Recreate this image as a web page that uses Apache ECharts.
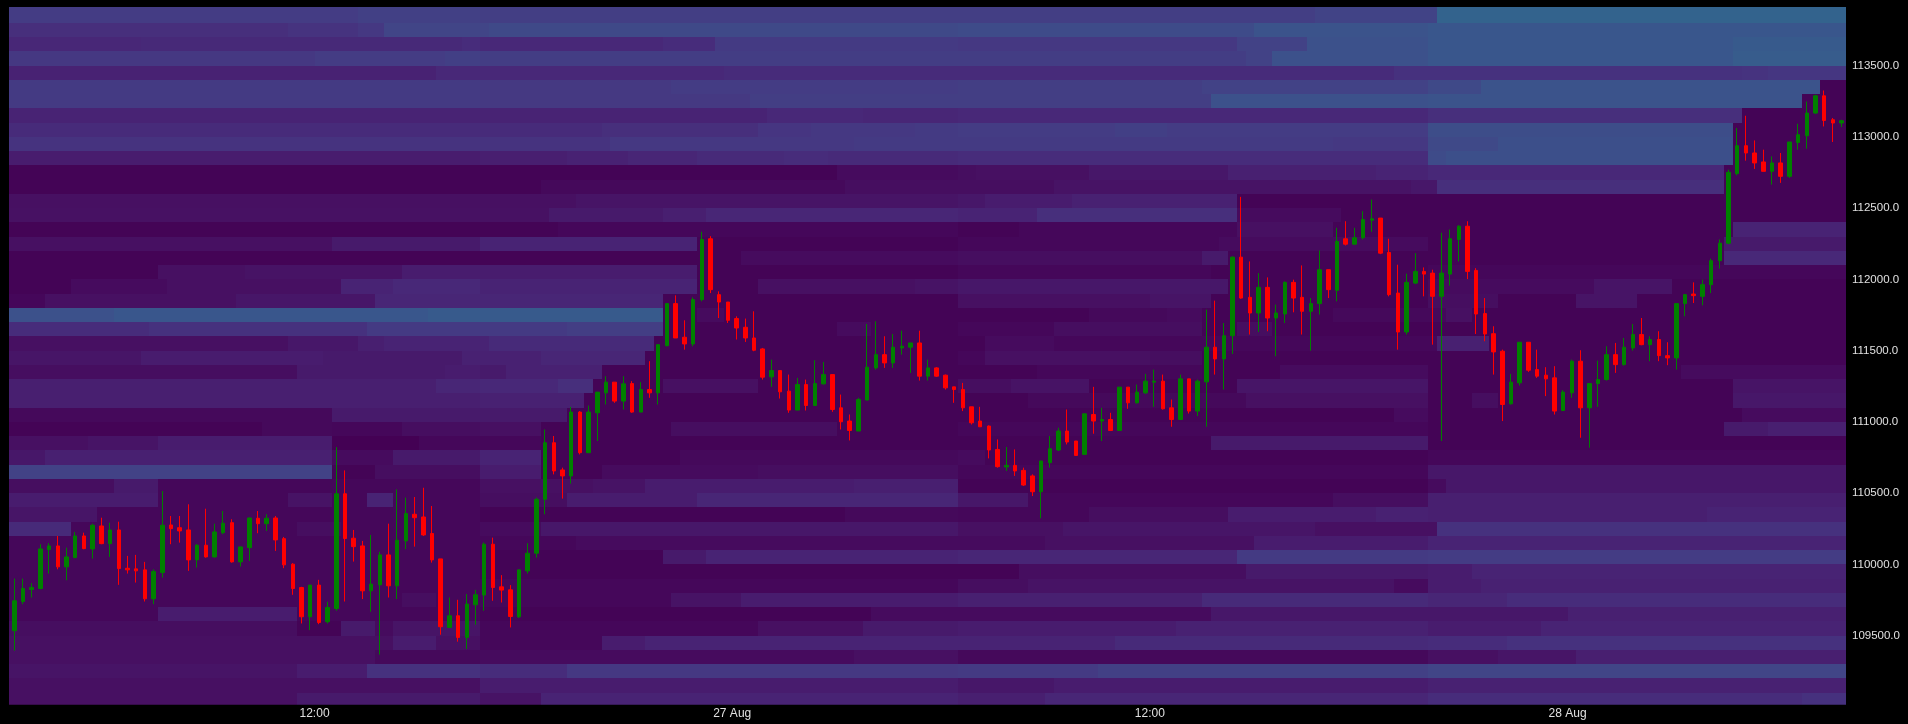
<!DOCTYPE html>
<html><head><meta charset="utf-8">
<script src="https://cdn.jsdelivr.net/npm/echarts@6/dist/echarts.min.js"></script>
<style>html,body{margin:0;padding:0;background:#000;}#c{width:1908px;height:724px;}</style>
</head><body><div id="c"></div>
<script>
// time axis in minutes since 26 Aug 00:00; 15-minute bins starting 03:15
const startMinute = 195;
const stepMinutes = 15;
const xTickValues = [720, 1440, 2160, 2880];
const xTickLabels = ['12:00', '27 Aug', '12:00', '28 Aug'];
const yTickValues = [109500, 110000, 110500, 111000, 111500, 112000, 112500, 113000, 113500];

// candles: [open, close, low, high]
const candles = [
[109535,109745,109395,109901],[109740,109831,109721,109901],[109824,109838,109768,109869],[109831,110109,109826,110142],
[110104,110130,109936,110149],[110130,109983,109966,110200],[109983,110053,109889,110118],[110048,110200,110044,110228],
[110200,110111,110107,110223],[110109,110275,110041,110286],[110270,110146,110142,110328],[110146,110242,110053,110293],
[110242,109971,109857,110300],[109973,109962,109936,110060],[109969,109955,109873,110067],[109962,109759,109740,110018],
[109759,109950,109721,109966],[109943,110275,109908,110515],[110277,110251,110142,110340],[110258,110235,110153,110340],
[110242,110032,109955,110422],[110032,110135,109978,110142],[110135,110053,110048,110391],[110053,110228,110048,110286],
[110223,110289,110212,110375],[110293,110018,110013,110317],[110018,110123,109985,110125],[110118,110326,110025,110328],
[110324,110286,110219,110375],[110286,110324,110235,110352],[110326,110172,110095,110340],[110181,109997,109974,110193],
[110002,109831,109787,110009],[109838,109633,109586,109843],[109633,109855,109539,109855],[109855,109593,109581,109892],
[109598,109698,109586,109738],[109691,110496,109675,110823],[110496,110182,109740,110660],[110184,110125,110020,110242],
[110130,109815,109757,110165],[109815,109862,109668,110207],[109857,110067,109367,110088],[110067,109850,109768,110286],
[109850,110170,109757,110527],[110165,110357,110107,110469],[110352,110328,110125,110473],[110333,110207,110200,110538],
[110217,110032,110013,110410],[110039,109563,109507,110039],[109558,109640,109558,109768],[109640,109488,109458,109752],
[109488,109722,109407,109792],[109717,109787,109577,109822],[109785,110142,109675,110154],[110142,109838,109745,110188],
[109843,109820,109733,109925],[109822,109635,109558,109855],[109633,109962,109624,109962],[109955,110079,109936,110149],
[110079,110457,110048,110469],[110457,110854,110352,110947],[110854,110656,110632,110901],[110663,110621,110462,110679],
[110621,111069,110567,111106],[111069,110784,110772,111076],[110784,111069,110784,111115],[111064,111209,110866,111209],
[111204,111279,111122,111321],[111279,111146,111134,111279],[111146,111267,111087,111321],[111269,111069,111064,111286],
[111069,111227,111069,111279],[111227,111204,111169,111426],[111204,111542,111122,111542],[111535,111830,111530,111830],
[111830,111589,111589,111888],[111594,111547,111507,111713],[111547,111858,111531,111874],[111858,112280,111846,112334],
[112285,111928,111904,112303],[111893,111841,111729,111916],[111841,111713,111694,111841],[111725,111659,111578,111741],
[111664,111589,111561,111725],[111589,111503,111496,111776],[111512,111314,111297,111519],[111316,111360,111246,111437],
[111360,111211,111164,111360],[111216,111083,111064,111332],[111083,111262,111083,111309],[111262,111115,111080,111297],
[111115,111269,111115,111433],[111267,111332,111262,111421],[111332,111087,111071,111332],[111099,111001,110947,111192],
[111006,110940,110870,111052],[110936,111157,110936,111169],[111153,111384,111153,111687],[111379,111472,111367,111706],
[111472,111414,111379,111601],[111414,111524,111379,111617],[111519,111531,111472,111640],[111524,111554,111344,111554],
[111554,111321,111290,111640],[111321,111379,111290,111437],[111379,111321,111316,111384],[111328,111239,111227,111332],
[111246,111227,111134,111246],[111227,111099,111076,111274],[111106,110994,110982,111106],[111006,110966,110966,111106],
[110971,110803,110744,110975],[110807,110686,110679,110877],[110684,110695,110656,110824],[110695,110656,110621,110807],
[110660,110557,110551,110679],[110621,110510,110480,110632],[110510,110726,110324,110726],[110714,110812,110679,110901],
[110803,110936,110796,110959],[110936,110859,110842,111087],[110866,110765,110761,110866],[110772,111057,110772,111057],
[111052,111006,110917,111246],[111006,111017,110866,111099],[111017,110940,110936,111064],[110940,111244,110936,111244],
[111244,111134,111092,111244],[111134,111209,111129,111262],[111204,111286,111197,111337],[111279,111286,111106,111367],
[111286,111092,111087,111332],[111099,111017,110966,111157],[111017,111302,111013,111332],[111302,111076,111059,111302],
[111076,111286,111041,111297],[111281,111524,110966,111788],[111524,111442,111332,111851],[111442,111605,111227,111694],
[111605,112156,111477,112161],[112156,111869,111864,112579],[111874,111764,111613,112126],[111764,111944,111631,112044],
[111944,111729,111636,112014],[111729,111764,111461,111823],[111757,111979,111694,111986],[111979,111869,111769,111998],
[111874,111776,111613,112098],[111776,111830,111500,111869],[111830,112068,111753,112203],[112068,111928,111869,112068],
[111923,112266,111846,112362],[112285,112247,112238,112408],[112247,112292,112243,112362],[112292,112420,112280,112478],
[112415,112425,112334,112560],[112430,112184,112177,112430],[112189,111893,111881,112285],[111904,111631,111507,112103],
[111631,111979,111613,112040],[111974,112056,111967,112184],[112056,112037,111881,112084],[112044,111881,111542,112068],
[111881,112044,110866,112327],[112037,112285,111956,112350],[112280,112373,112126,112380],[112373,112056,112002,112408],
[112063,111757,111617,112079],[111760,111617,111566,111869],[111619,111491,111332,111671],[111496,111122,111006,111507],
[111127,111279,111122,111337],[111274,111559,111255,111559],[111559,111363,111351,111559],[111367,111321,111309,111507],
[111328,111302,111181,111384],[111309,111076,111052,111391],[111080,111209,111076,111223],[111204,111426,111169,111437],
[111426,111099,110889,111503],[111099,111269,110819,111269],[111269,111297,111106,111430],[111297,111472,111290,111531],
[111472,111402,111344,111554],[111402,111524,111395,111589],[111519,111613,111500,111687],[111613,111542,111538,111729],
[111542,111578,111426,111601],[111578,111465,111426,111636],[111465,111449,111398,111559],[111449,111830,111367,111830],
[111830,111893,111741,111897],[111897,111886,111834,111979],[111881,111963,111818,111998],[111963,112131,111904,112145],
[112131,112254,112075,112280],[112254,112751,112247,112770],[112742,112938,112730,113062],[112938,112887,112833,113148],
[112887,112817,112775,112975],[112824,112758,112758,112910],[112758,112817,112665,112863],[112817,112723,112677,112887],
[112723,112964,112712,112964],[112961,113015,112910,113092],[113008,113167,112917,113248],[113167,113288,113162,113295],
[113288,113115,113073,113325],[113120,113097,112964,113132],[113097,113113,113069,113120]
];

// order-book heat rows: lower price of each 100-wide level
const rowPrices = [113800,113700,113600,113500,113400,113300,113200,113100,113000,112900,112800,112700,112600,112500,112400,112300,
112200,112100,112000,111900,111800,111700,111600,111500,111400,111300,111200,111100,111000,110900,110800,110700,110600,110500,
110400,110300,110200,110100,110000,109900,109800,109700,109600,109500,109400,109300,109200,109100,109000];
// each row: [startColumn, intensity, startColumn, intensity, ...]
const rowSegments = [
[0,50,40,54,54,52,150,56,164,90],
[0,38,32,42,40,46,43,58,55,62,109,64,143,72,163,76],
[0,31,15,33,52,36,54,32,75,36,81,48,109,46,141,55,149,70,163,76,198,80],
[0,46,35,50,50,53,54,51,142,55,145,70,163,76,198,82],
[0,27,49,32,82,35,159,40,199,42,202,45],
[0,48,54,47,76,50,109,52,137,55,163,62,169,72,208,2],
[0,48,54,47,85,52,138,70,163,72,206,2],
[0,28,87,32,98,30,109,32,163,38,199,2],
[0,35,68,38,86,44,92,46,104,48,109,50,127,53,133,50,163,66,198,2],
[0,42,69,46,97,48,152,46,163,62,171,68,198,2],
[0,22,54,24,64,27,71,30,79,34,89,36,94,34,109,36,163,64,165,68,198,2],
[0,2,95,8,109,10,111,12,124,18,140,25,157,28,163,32,197,2],
[0,2,61,6,96,10,120,14,161,18,164,38,197,2],
[0,12,65,15,109,18,112,22,122,26,141,2],
[0,13,62,20,75,24,80,30,109,28,118,38,141,8,153,2],
[0,2,63,5,109,2,116,5,141,12,152,2,198,28],
[0,12,37,20,54,28,79,2,109,5,139,8,163,2,197,20],
[0,2,84,8,109,10,137,20,140,2,197,32],
[0,2,17,12,27,14,45,22,79,2,109,5,138,2,163,5],
[0,2,7,8,18,12,38,28,44,32,54,28,79,2,86,12,104,14,109,18,140,2,163,8,182,15,191,2],
[0,5,4,12,26,17,42,30,75,2,109,12,131,15,138,2,163,10,171,2,180,15,187,2],
[0,70,12,76,48,80,75,2,79,8,82,2,124,6,133,8,137,2,152,6,165,12,168,2],
[0,36,16,40,41,48,64,52,75,2,95,8,99,2,109,5,120,10,137,2,141,10,145,2],
[0,12,32,18,40,24,43,28,55,34,74,2,112,8,120,5,164,25,170,2],
[0,16,15,22,36,20,52,26,61,30,73,2,109,5,112,12,131,10,137,2],
[0,10,33,20,50,22,54,20,57,26,68,2,118,5,137,2,146,8,163,2,192,8],
[0,24,49,30,54,32,63,38,67,2,75,12,86,2,109,10,115,14,124,2,141,16,163,2,198,15],
[0,24,54,26,66,2,117,6,142,12,163,2,168,10,171,2,198,18],
[0,6,37,20,64,2,159,8,163,2,199,8],
[0,2,29,6,37,5,45,10,54,12,61,2,76,10,95,2,109,5,163,2,197,20,202,24],
[0,12,9,15,17,22,37,0,47,5,61,2,138,20,163,2],
[0,18,4,25,37,8,44,20,54,28,61,2,77,6,109,8,112,2,163,5],
[0,55,37,2,42,10,54,22,61,2,68,8,86,10,109,5,163,18],
[0,10,12,20,17,5,54,12,67,14,73,22,97,24,109,2,163,8,165,18],
[0,22,17,5,32,14,37,5,41,28,44,5,54,10,64,22,79,30,109,18,117,5,152,10,163,24],
[0,16,10,5,54,2,96,6,109,5,124,10,140,22,157,26,163,24,195,28],
[0,34,7,5,33,10,38,5,54,8,61,18,109,12,121,16,150,12,164,40],
[0,5,65,8,119,12,143,22,163,28],
[0,5,54,2,75,20,80,28,109,30,141,48,163,50],
[0,5,54,2,116,10,142,20,163,22,168,28],
[0,5,109,10,117,14,159,8,163,22,169,26],
[0,5,45,10,49,5,76,14,84,22,109,25,137,34,163,30,172,36],
[0,5,17,22,33,5,54,2,99,8,138,18,179,25],
[0,10,33,2,38,20,42,8,44,15,54,5,86,12,98,20,109,22,134,26,163,22,176,28],
[0,12,44,22,49,12,54,5,68,22,73,28,127,34,163,36,172,40],
[0,12,42,6,54,8,97,12,109,6,163,12,171,16,180,24],
[0,15,33,22,41,40,54,36,64,46,109,48,125,54,163,58],
[0,12,54,22,109,18,120,22,163,26],
[0,12,33,20,54,14,61,28,109,24,119,30,163,36,206,40]
];

const columnCount = candles.length;
const xMin = 193.3, xMax = startMinute + stepMinutes * columnCount;
const yMin = 109016, yMax = 113911;

// build heat rectangles [xStart, xEnd, pLow, pHigh, value]
const heatData = [];
rowSegments.forEach(function (seg, r) {
  const pLow = rowPrices[r];
  const pHigh = r === 0 ? yMax : pLow + 100;
  for (let i = 0; i < seg.length; i += 2) {
    const c0 = seg[i];
    const c1 = i + 2 < seg.length ? seg[i + 2] : columnCount;
    heatData.push([startMinute + stepMinutes * c0, startMinute + stepMinutes * c1, pLow, pHigh, seg[i + 1]]);
  }
});
heatData.forEach(function (d) { if (d[0] === startMinute) d[0] = xMin; });

const candleData = candles.map(function (c, k) {
  return [startMinute + stepMinutes * (k + 0.5), c[0], c[1], c[2], c[3]];
});

const chart = echarts.init(document.getElementById('c'), null, {renderer: 'canvas'});
const font = '"Liberation Sans", Arial, sans-serif';
chart.setOption({
  backgroundColor: '#000000',
  animation: false,
  grid: {left: 9, right: 62, top: 7, bottom: 19.3, containLabel: false, outerBoundsMode: 'none'},
  xAxis: {
    type: 'value', min: xMin, max: xMax,
    splitLine: {show: false}, axisLine: {show: false}, axisTick: {show: false},
    axisLabel: {
      customValues: xTickValues,
      formatter: function (v) { const i = xTickValues.indexOf(v); return i >= 0 ? xTickLabels[i] : ''; },
      color: '#e0e0e0', fontSize: 12, fontFamily: font, margin: 3
    }
  },
  yAxis: {
    type: 'value', position: 'right', min: yMin, max: yMax,
    splitLine: {show: false}, axisLine: {show: false}, axisTick: {show: false},
    axisLabel: {
      customValues: yTickValues,
      formatter: function (v) { return Number(v).toFixed(1); },
      color: '#e0e0e0', fontSize: 11.5, fontFamily: font, margin: 6
    }
  },
  visualMap: {
    show: false, type: 'continuous', min: 0, max: 100, dimension: 4, seriesIndex: 0,
    inRange: {color: ['#440154', '#471365', '#482475', '#463480', '#414487', '#3b528b', '#355f8d', '#2f6c8e']}
  },
  series: [
    {
      type: 'custom',
      clip: true,
      encode: {x: [0, 1], y: [2, 3]},
      data: heatData,
      renderItem: function (params, api) {
        const a = api.coord([api.value(0), api.value(3)]);
        const b = api.coord([api.value(1), api.value(2)]);
        const cs = params.coordSys;
        let x0 = Math.max(Math.round(a[0]), Math.round(cs.x));
        let x1 = Math.min(Math.round(b[0]), Math.round(cs.x + cs.width));
        let y0 = Math.max(Math.round(a[1]), Math.round(cs.y));
        let y1 = Math.min(Math.round(b[1]), Math.round(cs.y + cs.height));
        return {type: 'rect', shape: {x: x0, y: y0, width: Math.max(0, x1 - x0), height: Math.max(0, y1 - y0)},
                style: {fill: api.visual('color')}};
      },
      z: 1
    },
    {
      type: 'candlestick',
      data: candleData,
      barWidth: 4,
      itemStyle: {color: '#008000', color0: '#ff0000', borderColor: '#008000', borderColor0: '#ff0000', borderWidth: 1},
      z: 5
    }
  ]
});
</script></body></html>
